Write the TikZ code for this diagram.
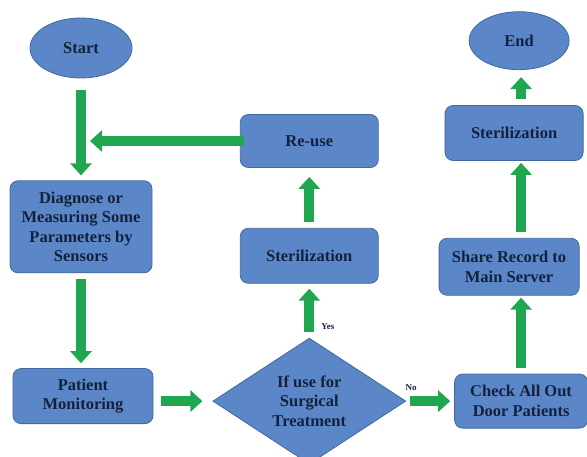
\documentclass[tikz,border=0pt]{standalone}
\usepackage{fontspec}
\setmainfont{Liberation Serif}
\usepackage{xcolor}
\usetikzlibrary{positioning,shapes.geometric,arrows.meta,calc}

\definecolor{boxblue}{HTML}{5B87C8}
\definecolor{boxedge}{HTML}{41699F}
\definecolor{boxtext}{HTML}{14213D}
\definecolor{flowgreen}{HTML}{1FA64F}

\begin{document}
\begin{tikzpicture}[x=1pt,y=-1pt,
	bluebox/.style={rectangle, rounded corners=8pt, draw=boxedge, fill=boxblue, thick, text=boxtext, font=\bfseries\fontsize{16.5}{19.5}\selectfont, align=center, inner sep=2pt},
	blueoval/.style={ellipse, draw=boxedge, fill=boxblue, thick, text=boxtext, font=\bfseries\fontsize{16.5}{19.5}\selectfont, inner sep=0pt},
	bluediamond/.style={diamond, aspect=1.5, draw=boxedge, fill=boxblue, thick, text=boxtext, font=\bfseries\fontsize{16.5}{19.5}\selectfont, align=center, inner sep=0pt, minimum width=193pt, minimum height=126pt},
	flow/.style={draw=flowgreen, line width=10pt, -{Triangle[width=21pt,length=12pt]}, shorten <=6pt, shorten >=5pt},
	flowlabel/.style={text=boxtext, font=\bfseries\fontsize{9}{10}\selectfont, inner sep=1pt},
	]
	\useasboundingbox (0,0) rectangle (587,457);
	%Nodes
	\node[blueoval, minimum width=102pt, minimum height=60pt](start) at (81,48){Start};
	\node[bluebox, minimum width=142pt, minimum height=92pt](diag)[below=102pt of start]{Diagnose or\\Measuring Some\\Parameters by\\Sensors};
	\node[bluebox, minimum width=140pt, minimum height=55pt](patient)[below=95pt of diag, xshift=2pt]{Patient\\Monitoring};
	\node[bluediamond](surgical)[right=59pt of patient, yshift=-5pt]{If use for\\Surgical\\Treatment};
	\node[bluebox, minimum width=138pt, minimum height=55pt](ster)[above=54pt of surgical]{Sterilization};
	\node[bluebox, minimum width=138pt, minimum height=53pt](reuse)[above=60pt of ster]{Re-use};
	\node[bluebox, minimum width=133pt, minimum height=54pt](check)[right=48pt of surgical]{Check All Out\\Door Patients};
	\node[bluebox, minimum width=140pt, minimum height=57pt](share)[above=78pt of check, xshift=-12pt]{Share Record to\\Main Server};
	\node[bluebox, minimum width=138pt, minimum height=55pt](sterend)[above=77pt of share, xshift=5pt]{Sterilization};
	\node[blueoval, minimum width=100pt, minimum height=58pt](end)[above=35pt of sterend, xshift=5pt]{End};

	%Lines
	\draw[flow, shorten <=12pt] (start.south) -- (start.south |- diag.north);
	\draw[flow] (diag.south) -- (diag.south |- patient.north);
	\draw[flow, shorten <=8pt, shorten >=10pt] (surgical.west -| patient.east) -- (surgical.west);
	\draw[flow] (surgical.north) -- (surgical.north |- ster.south) node[flowlabel, pos=0.2, right=6pt]{Yes};
	\draw[flow, shorten >=9pt] (ster.north) -- (reuse.south);
	\draw[flow, shorten <=-4pt, shorten >=0pt] (reuse.west) -- ($(reuse.west -| start)+(9,0)$);
	\draw[flow, shorten <=4pt, shorten >=4pt] (surgical.east) -- (check.west) node[flowlabel, pos=0.1, above=5pt]{No};
	\draw[flow, shorten >=2pt] (check.north) -- (check.north |- share.south);
	\draw[flow, shorten >=2pt] (share.north -| check.north) -- (sterend.south -| check.north);
	\draw[flow, shorten >=7pt] (sterend.north -| check.north) -- (end.south -| check.north);
\end{tikzpicture}
\end{document}
